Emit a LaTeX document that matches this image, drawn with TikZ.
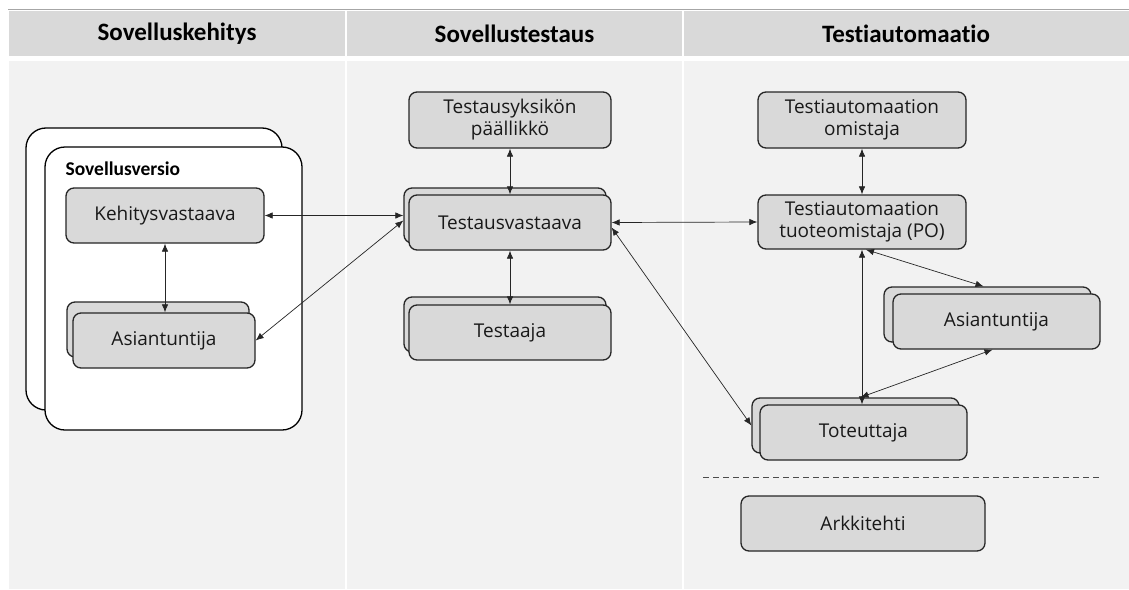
\documentclass[tikz,border=0pt]{standalone}
\usepackage{fontspec}
\setmainfont{Carlito}[Ligatures=NoCommon]
\newfontfamily\boxfont{Open Sans}
\usetikzlibrary{arrows.meta}
\definecolor{hdr}{HTML}{D9D9D9}
\definecolor{bodyc}{HTML}{F2F2F2}
\definecolor{boxc}{HTML}{D9D9D9}
\definecolor{edge}{HTML}{262626}
\definecolor{topline}{HTML}{A6A6A6}
\tikzset{
  rbox/.style={draw=edge, fill=boxc, line width=1.3pt, rounded corners=8pt,
    font=\boxfont\fontsize{19}{22}\selectfont, text=black!90, align=center,
    inner sep=0pt},
  bigbox/.style={draw=black, fill=white, line width=1.3pt, rounded corners=20pt, inner sep=0pt},
  biarrow/.style={{Latex[length=8pt,width=6.5pt]}-{Latex[length=8pt,width=6.5pt]},
    line width=0.7pt, draw=black!85},
  hdrtext/.style={font=\bfseries\fontsize{25}{29}\selectfont, text=black},
  sepline/.style={draw=black!70, line width=0.8pt, dash pattern=on 6pt off 4pt}
}
\begin{document}
\begin{tikzpicture}[x=1pt,y=-1pt]
\useasboundingbox (0,0) rectangle (1129,589);
\fill[white] (0,0) rectangle (1129,589);
% header band and columns
\draw[topline, line width=1pt] (8,9.5) -- (1129,9.5);
\fill[hdr] (9,11) rectangle (345,56);
\fill[hdr] (347,11) rectangle (682,56);
\fill[hdr] (684,11) rectangle (1129,56);
\fill[bodyc] (9,61) rectangle (345,589);
\fill[bodyc] (347,61) rectangle (682,589);
\fill[bodyc] (684,61) rectangle (1129,589);
\node[hdrtext] (h1) at (177,33.5) {Sovelluskehitys};
\node[hdrtext] (h2) at (514.5,33.5) {Sovellustestaus};
\node[hdrtext] (h3) at (906,33.5) {Testiautomaatio};

% Sovellusversio containers
\node[bigbox, minimum width=256pt, minimum height=282pt] (svb) at (154,269) {};
\node[bigbox, minimum width=257pt, minimum height=283pt] (svf) at (173.5,288.5) {};
\node[anchor=base west, font=\bfseries\fontsize{19.5}{23}\selectfont] (svl) at (62,175) {Sovellusversio};

% column 1 boxes
\node[rbox, minimum width=198pt, minimum height=55pt] (keh) at (165,215.5) {Kehitysvastaava};
\node[rbox, minimum width=182pt, minimum height=55pt] (asi1b) at (158,329.5) {};
\node[rbox, minimum width=182pt, minimum height=55pt] (asi1) at (164,340.5) {Asiantuntija};

% column 2 boxes
\node[rbox, minimum width=202pt, minimum height=56pt] (tyk) at (510,120) {Testausyksikön\\päällikkö};
\node[rbox, minimum width=202pt, minimum height=55pt] (tvb) at (505,215.5) {};
\node[rbox, minimum width=202pt, minimum height=55pt] (tv) at (510,222.5) {Testausvastaava};
\node[rbox, minimum width=202pt, minimum height=55pt] (tesb) at (505,324.5) {};
\node[rbox, minimum width=202pt, minimum height=55pt] (tes) at (510,332.5) {Testaaja};

% column 3 boxes
\node[rbox, minimum width=208pt, minimum height=56pt] (tao) at (862,120) {Testiautomaation\\omistaja};
\node[rbox, minimum width=208pt, minimum height=54pt] (po) at (862,222) {Testiautomaation\\tuoteomistaja (PO)};
\node[rbox, minimum width=207pt, minimum height=55pt] (asi2b) at (987.5,314.5) {};
\node[rbox, minimum width=207pt, minimum height=55pt] (asi2) at (996.5,321.5) {Asiantuntija};
\node[rbox, minimum width=207pt, minimum height=55pt] (totb) at (855.5,425.5) {};
\node[rbox, minimum width=207pt, minimum height=55pt] (tot) at (863.5,432.5) {Toteuttaja};
\coordinate (dl) at (703,477);
\coordinate (dr) at (1101,477);
\draw[sepline] (dl) -- (dr);
\node[rbox, minimum width=244pt, minimum height=55pt] (ark) at (863,523.5) {Arkkitehti};

% connectors
\draw[biarrow] (keh.south) -- (keh.south |- asi1.north);
\draw[biarrow] (keh.east) -- (tvb.west);
\draw[biarrow] (asi1.east) -- ([yshift=-5pt]tvb.west);
\draw[biarrow] (tyk.south) -- (tv.north);
\draw[biarrow] (tv.south) -- (tes.north);
\draw[biarrow] (po.west) -- (tv.east);
\draw[biarrow] ([yshift=-5pt]tv.east) -- (totb.west);
\draw[biarrow] (tao.south) -- (po.north);
\draw[biarrow] (po.south) -- (po.south |- tot.north);
\draw[biarrow] ([xshift=4pt]po.south) -- ([xshift=-4pt]asi2b.north);
\draw[biarrow] ([xshift=-4pt]asi2.south) -- ([xshift=5pt]totb.north);
\end{tikzpicture}
\end{document}
